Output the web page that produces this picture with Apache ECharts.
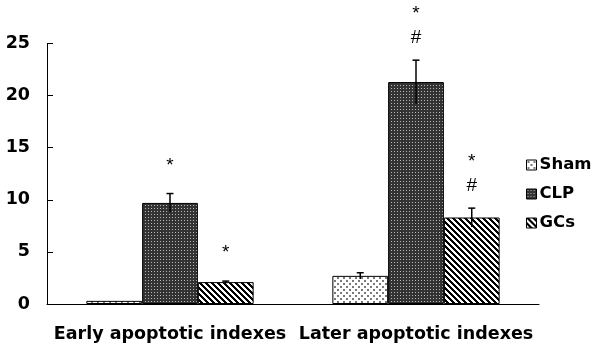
<!DOCTYPE html>
<html>
<head>
<meta charset="utf-8">
<script src="https://cdn.jsdelivr.net/npm/echarts@6/dist/echarts.min.js"></script>
<style>
  html, body { margin: 0; padding: 0; background: #fff; }
  #chart { width: 600px; height: 353px; }
</style>
</head>
<body>
<div id="chart"></div>
<script>
// categories and groups
var categories = ['Early apoptotic indexes', 'Later apoptotic indexes'];
var groups = ['Sham', 'CLP', 'GCs'];
// means and error
var shamMean = [0.3, 2.7];
var shamErr = [0, 0.3];
var clpMean = [9.7, 21.3];
var clpErr = [0.9, 2.1];
var gcsMean = [2.1, 8.3];
var gcsErr = [0.1, 0.9];
// significance marks above the bars
var shamNote = ['', ''];
var clpNote = ['*', '*\n#'];
var gcsNote = ['*', '*\n#'];
var yTicks = [0, 5, 10, 15, 20, 25];

// fill patterns
function makePattern(size, bg, draw) {
    var c = document.createElement('canvas');
    c.width = size; c.height = size;
    var ctx = c.getContext('2d');
    ctx.fillStyle = bg;
    ctx.fillRect(0, 0, size, size);
    draw(ctx);
    return { image: c, repeat: 'repeat' };
}
var shamFill = makePattern(6, '#ffffff', function (ctx) {
    ctx.fillStyle = '#7a7a7a';
    ctx.fillRect(1, 1, 2, 2);
    ctx.fillRect(4, 4, 2, 2);
});
var clpFill = makePattern(3, '#333333', function (ctx) {
    ctx.fillStyle = '#b8b8b8';
    ctx.fillRect(1, 1, 1, 1);
});
var gcsFill = makePattern(6, '#ffffff', function (ctx) {
    ctx.fillStyle = '#000000';
    for (var y = 0; y < 6; y++) {
        ctx.fillRect(y % 6, y, 1, 1);
        ctx.fillRect((y + 1) % 6, y, 1, 1);
        ctx.fillRect((y + 2) % 6, y, 1, 1);
    }
});

var means = [shamMean, clpMean, gcsMean];
var errs = [shamErr, clpErr, gcsErr];
var notes = [shamNote, clpNote, gcsNote];
var fills = [shamFill, clpFill, gcsFill];
var gapPct = 0.32;

var errData = [];
for (var g = 0; g < groups.length; g++) {
    for (var k = 0; k < categories.length; k++) {
        errData.push([k, g, means[g][k], errs[g][k], notes[g][k]]);
    }
}

var font = 'DejaVu Sans';
var mychart = echarts.init(document.getElementById('chart'));

var series = [];
for (var i = 0; i < groups.length; i++) {
    series.push({
        name: groups[i],
        type: 'bar',
        data: means[i],
        barGap: 0,
        barCategoryGap: (gapPct * 100) + '%',
        itemStyle: {
            color: fills[i],
            borderColor: '#000',
            borderWidth: 1
        }
    });
}
series.push({
    type: 'custom',
    silent: true,
    z: 10,
    data: errData,
    renderItem: function (params, api) {
        var cat = api.value(0), grp = api.value(1);
        var mean = api.value(2), err = api.value(3);
        var note = errData[params.dataIndex][4];
        var band = api.size([1, 0])[0];
        var bw = band * (1 - gapPct) / 3;
        var top = api.coord([cat, mean + err]);
        var bot = api.coord([cat, mean - err]);
        var x = top[0] + (grp - 1) * bw;
        var children = [];
        if (err > 0) {
            children.push({
                type: 'line',
                shape: { x1: x, y1: top[1], x2: x, y2: bot[1] },
                style: { stroke: '#000', lineWidth: 1.5 }
            });
            children.push({
                type: 'line',
                shape: { x1: x - 3.5, y1: top[1], x2: x + 3.5, y2: top[1] },
                style: { stroke: '#000', lineWidth: 1.5 }
            });
        }
        if (note) {
            children.push({
                type: 'text',
                style: {
                    text: note,
                    x: x,
                    y: top[1] - (note.length > 1 ? 10 : 16),
                    align: 'center',
                    verticalAlign: 'bottom',
                    font: '19px "Liberation Sans"',
                    lineHeight: 24,
                    fill: '#000'
                }
            });
        }
        return { type: 'group', children: children };
    }
});

var option = {
    animation: false,
    backgroundColor: '#fff',
    grid: { left: 47, right: 61, top: 43.5, bottom: 49 },
    legend: {
        orient: 'vertical',
        left: 521,
        top: 151,
        data: groups,
        itemWidth: 10,
        itemHeight: 10,
        itemGap: 11,
        icon: 'rect',
        itemStyle: { borderColor: '#000', borderWidth: 1 },
        textStyle: {
            fontFamily: font,
            fontWeight: 'bold',
            fontSize: 16.5,
            lineHeight: 18,
            color: '#000',
            padding: [0, 0, 0, -2]
        }
    },
    xAxis: {
        type: 'category',
        data: categories,
        axisLine: { lineStyle: { color: '#000', width: 1 } },
        axisTick: { inside: true, length: 5, lineStyle: { color: '#000' } },
        axisLabel: {
            interval: 0,
            fontFamily: font,
            fontWeight: 'bold',
            fontSize: 17.5,
            color: '#000',
            margin: 21
        }
    },
    yAxis: {
        type: 'value',
        min: 0,
        max: 25,
        interval: 5,
        splitLine: { show: false },
        axisLine: { show: true, lineStyle: { color: '#000', width: 1 } },
        axisTick: { show: true, inside: true, length: 6, lineStyle: { color: '#000' } },
        axisLabel: {
            fontFamily: font,
            fontWeight: 'bold',
            fontSize: 17.5,
            color: '#000',
            margin: 17
        }
    },
    series: series
};
mychart.setOption(option);
</script>
</body>
</html>
